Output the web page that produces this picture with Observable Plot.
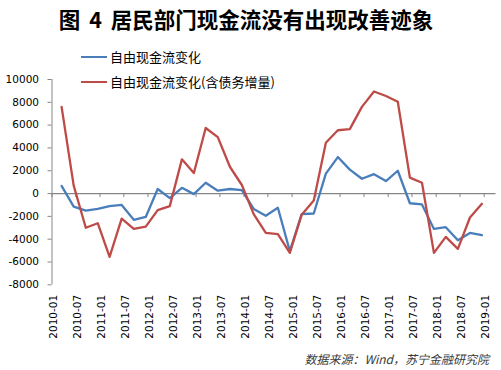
<!DOCTYPE html>
<html>
<head>
<meta charset="utf-8">
<script src="https://cdn.jsdelivr.net/npm/d3@7"></script>
<script src="https://cdn.jsdelivr.net/npm/@observablehq/plot@0.6"></script>
<style>
  body { margin: 0; background: #fff; }
  #wrap { position: relative; width: 501px; height: 370px; overflow: hidden; font-family: "Noto Sans CJK SC", sans-serif; color: #000; }
  #chart { position: absolute; left: 0; top: 0; }
  #title { position: absolute; left: 0; width: 492px; top: 7.5px; text-align: center; font-size: 21.5px; line-height: 22px; font-weight: bold; word-spacing: 4px; white-space: nowrap; }
  .leg { position: absolute; left: 81px; height: 16px; font-size: 13px; line-height: 16px; display: flex; align-items: center; white-space: nowrap; }
  .leg .sw { display: inline-block; width: 26px; height: 0; border-top: 2.5px solid; margin-right: 3px; }
  #cap { position: absolute; right: 12px; top: 352px; font-size: 12px; line-height: 14px; font-style: italic; color: #3a3a3a; white-space: nowrap; }
</style>
</head>
<body>
<div id="wrap">
  <div id="chart"></div>
  <div id="title"></div>
  <div id="legend"></div>
  <div id="cap"></div>
</div>
<script>
// ---- data ----
const titleText = "图 4 居民部门现金流没有出现改善迹象";
const captionText = "数据来源：Wind，苏宁金融研究院";
const seriesNames = ["自由现金流变化", "自由现金流变化(含债务增量)"];
const seriesColors = ["#4A7EBB", "#BE4B48"];

const months = [
  "2010-03","2010-06","2010-09","2010-12",
  "2011-03","2011-06","2011-09","2011-12",
  "2012-03","2012-06","2012-09","2012-12",
  "2013-03","2013-06","2013-09","2013-12",
  "2014-03","2014-06","2014-09","2014-12",
  "2015-03","2015-06","2015-09","2015-12",
  "2016-03","2016-06","2016-09","2016-12",
  "2017-03","2017-06","2017-09","2017-12",
  "2018-03","2018-06","2018-09","2018-12"
];

const freeCashFlow = [
  670, -1150, -1500, -1350,
  -1100, -1000, -2300, -2050,
  400, -400, 500, -50,
  950, 250, 400, 300,
  -1350, -1950, -1250, -5050,
  -1800, -1750, 1750, 3200,
  2100, 1300, 1700, 1100,
  2000, -850, -950, -3100,
  -2950, -4100, -3450, -3650
];

const freeCashFlowDebt = [
  7600, 700, -3000, -2600,
  -5550, -2200, -3100, -2900,
  -1450, -1100, 3000, 1800,
  5750, 4950, 2350, 750,
  -1800, -3450, -3550, -5200,
  -1850, -600, 4450, 5550,
  5650, 7600, 8950, 8550,
  8050, 1400, 950, -5200,
  -3800, -4850, -2100, -900
];

const xTickLabels = [
  "2010-01","2010-07","2011-01","2011-07","2012-01","2012-07",
  "2013-01","2013-07","2014-01","2014-07","2015-01","2015-07",
  "2016-01","2016-07","2017-01","2017-07","2018-01","2018-07","2019-01"
];
const yTicks = [-8000, -6000, -4000, -2000, 0, 2000, 4000, 6000, 8000, 10000];
const xDomainLabels = ["2010-01", "2019-04"];

// ---- build ----
const parseMonth = d3.utcParse("%Y-%m");
const fmtMonth = d3.utcFormat("%Y-%m");
const midMonth = s => d3.utcDay.offset(parseMonth(s), 14);

const rows = [];
months.forEach((m, i) => {
  rows.push({date: midMonth(m), value: freeCashFlow[i], series: seriesNames[0]});
});
months.forEach((m, i) => {
  rows.push({date: midMonth(m), value: freeCashFlowDebt[i], series: seriesNames[1]});
});
const xTicks = xTickLabels.map(parseMonth);
const xDomain = xDomainLabels.map(parseMonth);
const axisGray = "#868686";

const chart = Plot.plot({
  width: 501,
  height: 370,
  marginLeft: 51.5,
  marginRight: 5.5,
  marginTop: 79,
  marginBottom: 85.7,
  style: {fontFamily: "'DejaVu Sans', sans-serif", fontSize: "10.5px", background: "transparent", color: "#000"},
  x: {type: "utc", domain: xDomain, label: null},
  y: {domain: [-8000, 10000], label: null},
  color: {domain: seriesNames, range: seriesColors},
  marks: [
    Plot.ruleX([xDomain[0]], {stroke: axisGray, strokeWidth: 1}),
    Plot.ruleY([0], {stroke: axisGray, strokeWidth: 1.2}),
    Plot.ruleX(xTicks, {x: d => d, y1: 0, y2: 0, insetBottom: -4, stroke: axisGray, strokeWidth: 1}),
    Plot.axisY({ticks: yTicks, tickSize: 4, tickPadding: 9, tickFormat: d => String(d), stroke: axisGray, fill: "#000", label: null}),
    Plot.axisX({ticks: xTicks, tickSize: 0, tickPadding: 10, tickRotate: -90, tickFormat: fmtMonth, fill: "#000", dx: 1.5, label: null}),
    Plot.line(rows, {x: "date", y: "value", z: "series", stroke: "series", strokeWidth: 2.3, strokeLinejoin: "round", strokeLinecap: "round"})
  ]
});
document.getElementById("chart").appendChild(chart);

document.getElementById("title").textContent = titleText;
document.getElementById("cap").textContent = captionText;
const legendTops = [48.7, 73.7];
const legend = document.getElementById("legend");
seriesNames.forEach((name, i) => {
  const item = document.createElement("div");
  item.className = "leg";
  item.style.top = legendTops[i] + "px";
  const sw = document.createElement("span");
  sw.className = "sw";
  sw.style.borderTopColor = seriesColors[i];
  const tx = document.createElement("span");
  tx.textContent = name;
  item.appendChild(sw);
  item.appendChild(tx);
  legend.appendChild(item);
});
</script>
</body>
</html>
